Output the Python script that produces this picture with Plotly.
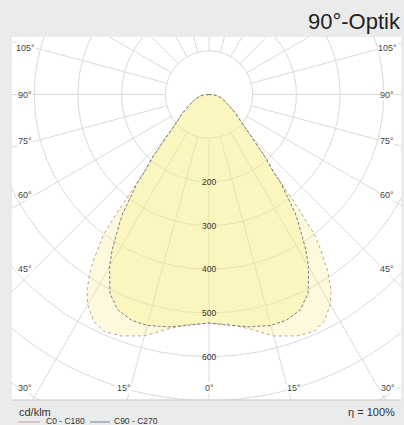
import numpy as np
import plotly.graph_objects as go

# ---------------- data (cd/klm, angle from nadir in degrees) ----------------
angles_c0 = [0, 5, 10, 15, 20, 24, 27, 30, 32, 34, 35, 36, 37, 37.5, 38, 38.5, 39, 40,
             42, 44, 46, 50, 55, 60, 65, 70, 75, 80, 85, 90]
c0_c180 = [523, 528, 545, 572, 588, 593, 582, 555, 527, 485, 458, 430, 400, 370, 335, 300, 272, 228,
           192, 152, 125, 95, 73, 55, 44, 35, 28, 21, 12, 0]

angles_c90 = [0, 5, 10, 15, 19, 23, 26.5, 28, 30, 32, 33.5, 35, 36, 37, 38, 39, 40,
              42, 44, 46, 50, 55, 60, 65, 70, 75, 80, 85, 90]
c90_c270 = [523, 530, 540, 547, 546, 535, 508, 485, 455, 418, 385, 355, 335, 305, 280, 262, 225,
            192, 152, 125, 95, 73, 55, 44, 35, 28, 21, 12, 0]

ring_values = [100, 200, 300, 400, 500, 600, 700, 800, 900, 1000]
ring_labels = [200, 300, 400, 500, 600]
spoke_angles = list(range(0, 360, 15))
side_labels = [105, 90, 75, 60, 45]
bottom_labels = [30, 15, 0]

title_text = "90°-Optik"
unit_text = "cd/klm"
eta_text = "η = 100%"
series_names = ["C0 - C180", "C90 - C270"]

# ---------------- geometry of the canvas ----------------
W, H = 404, 425
S = 0.437            # pixels per cd/klm
CX, CY = 209, 94.5   # pixel position of the polar origin
L, R, T, B = 12, 401, 37, 400   # plot area in pixels
x_range = [(L - CX) / S, (R - CX) / S]
y_range = [-(B - CY) / S, (CY - T) / S]


def to_xy(ang, r, side):
    a = np.radians(np.asarray(ang, dtype=float))
    r = np.asarray(r, dtype=float)
    return side * r * np.sin(a), -r * np.cos(a)


def closed_curve(ang, r):
    xl, yl = to_xy(ang[::-1], r[::-1], -1)
    xr, yr = to_xy(ang[1:], r[1:], 1)
    return np.concatenate([xl, xr]), np.concatenate([yl, yr])


fig = go.Figure()

xo, yo = closed_curve(angles_c0, c0_c180)
fig.add_trace(go.Scatter(x=xo, y=yo, mode="lines", fill="toself",
                         fillcolor="rgba(247,231,115,0.25)",
                         line=dict(color="#c4a08c", width=1, dash="dot"),
                         name=series_names[0], showlegend=False, hoverinfo="skip"))
xi, yi = closed_curve(angles_c90, c90_c270)
fig.add_trace(go.Scatter(x=xi, y=yi, mode="lines", fill="toself",
                         fillcolor="rgba(249,238,130,0.32)",
                         line=dict(color="#6a6a80", width=0.9, dash="3px,2px"),
                         name=series_names[1], showlegend=False, hoverinfo="skip"))

shapes = []
grid_col = "#dadada"
for rv in ring_values:
    shapes.append(dict(type="circle", xref="x", yref="y", x0=-rv, y0=-rv, x1=rv, y1=rv,
                       line=dict(color=grid_col, width=1), layer="below"))
for a in spoke_angles:
    sx, sy = np.sin(np.radians(a)), -np.cos(np.radians(a))
    shapes.append(dict(type="line", xref="x", yref="y",
                       x0=ring_values[0] * sx, y0=ring_values[0] * sy,
                       x1=1200 * sx, y1=1200 * sy,
                       line=dict(color=grid_col, width=1), layer="below"))
# bottom frame line
shapes.append(dict(type="line", xref="paper", yref="paper", x0=0, x1=1, y0=0, y1=0,
                   line=dict(color="#c4c4c4", width=1)))

annotations = []
for rv in ring_labels:
    annotations.append(dict(x=0, y=-rv, xref="x", yref="y", text=str(rv), showarrow=False,
                            font=dict(size=8.5, color="#333333")))

# angle labels on the sides
xin = (35 - CX) / S
for a in side_labels:
    yv = -abs(xin) / np.tan(np.radians(a)) if a != 90 else 0.0
    for side, xc in ((-1, 25), (1, 387)):
        annotations.append(dict(x=(xc - CX) / S, y=yv, xref="x", yref="y", text=f"{a}°",
                                showarrow=False, bgcolor="white", borderpad=0,
                                font=dict(size=9, color="#444444")))
# angle labels at the bottom
yb = -(388 - CY) / S
for a in bottom_labels:
    xs = abs(yb) * np.tan(np.radians(a))
    for side in ((-1, 1) if a else (1,)):
        if a == 0:
            xpos, anchor = 0, "center"
        else:
            xpos = side * xs + side * (-2 / S)
            anchor = "right" if side < 0 else "left"
            if a == 30:
                xpos = ((25 if side < 0 else 388) - CX) / S
                anchor = "center"
        annotations.append(dict(x=xpos, y=yb, xref="x", yref="y", text=f"{a}°",
                                showarrow=False, xanchor=anchor, bgcolor="white", borderpad=0,
                                font=dict(size=9, color="#444444")))


def px_x(p):
    return (p - L) / (R - L)


def px_y(p):
    return (B - p) / (B - T)


annotations.append(dict(x=px_x(403), y=px_y(21), xref="paper", yref="paper", text=title_text,
                        showarrow=False, xanchor="right", yanchor="middle",
                        font=dict(size=22, color="#222222")))
annotations.append(dict(x=px_x(17), y=px_y(412), xref="paper", yref="paper", text=unit_text,
                        showarrow=False, xanchor="left", yanchor="middle",
                        font=dict(size=11, color="#333333")))
annotations.append(dict(x=px_x(397), y=px_y(412), xref="paper", yref="paper", text=eta_text,
                        showarrow=False, xanchor="right", yanchor="middle",
                        font=dict(size=11, color="#333333")))
legend_cols = ["#d49a9a", "#7c7ca4"]
legend_x = [(18, 40, 44), (90, 110, 112)]
for name, col, (a0, a1, tx) in zip(series_names, legend_cols, legend_x):
    shapes.append(dict(type="line", xref="paper", yref="paper", x0=px_x(a0), x1=px_x(a1),
                       y0=px_y(422), y1=px_y(422), line=dict(color=col, width=1)))
    annotations.append(dict(x=px_x(tx), y=px_y(420.5), xref="paper", yref="paper", text=name,
                            showarrow=False, xanchor="left", yanchor="middle",
                            font=dict(size=8.5, color="#333333")))

fig.update_layout(
    width=W, height=H,
    margin=dict(l=L, r=W - R, t=T, b=H - B, pad=0),
    paper_bgcolor="#eaecec", plot_bgcolor="white",
    font=dict(family="Liberation Sans, Arial, sans-serif"),
    xaxis=dict(range=x_range, visible=False, fixedrange=True, showgrid=False, zeroline=False),
    yaxis=dict(range=y_range, visible=False, fixedrange=True, showgrid=False, zeroline=False),
    shapes=shapes, annotations=annotations, showlegend=False,
)

fig.write_html(
    "out.html",
    config={"displayModeBar": False},
    post_script="document.body.style.margin='0';document.body.style.overflow='hidden';"
                "document.body.style.background='#eaecec';",
)
